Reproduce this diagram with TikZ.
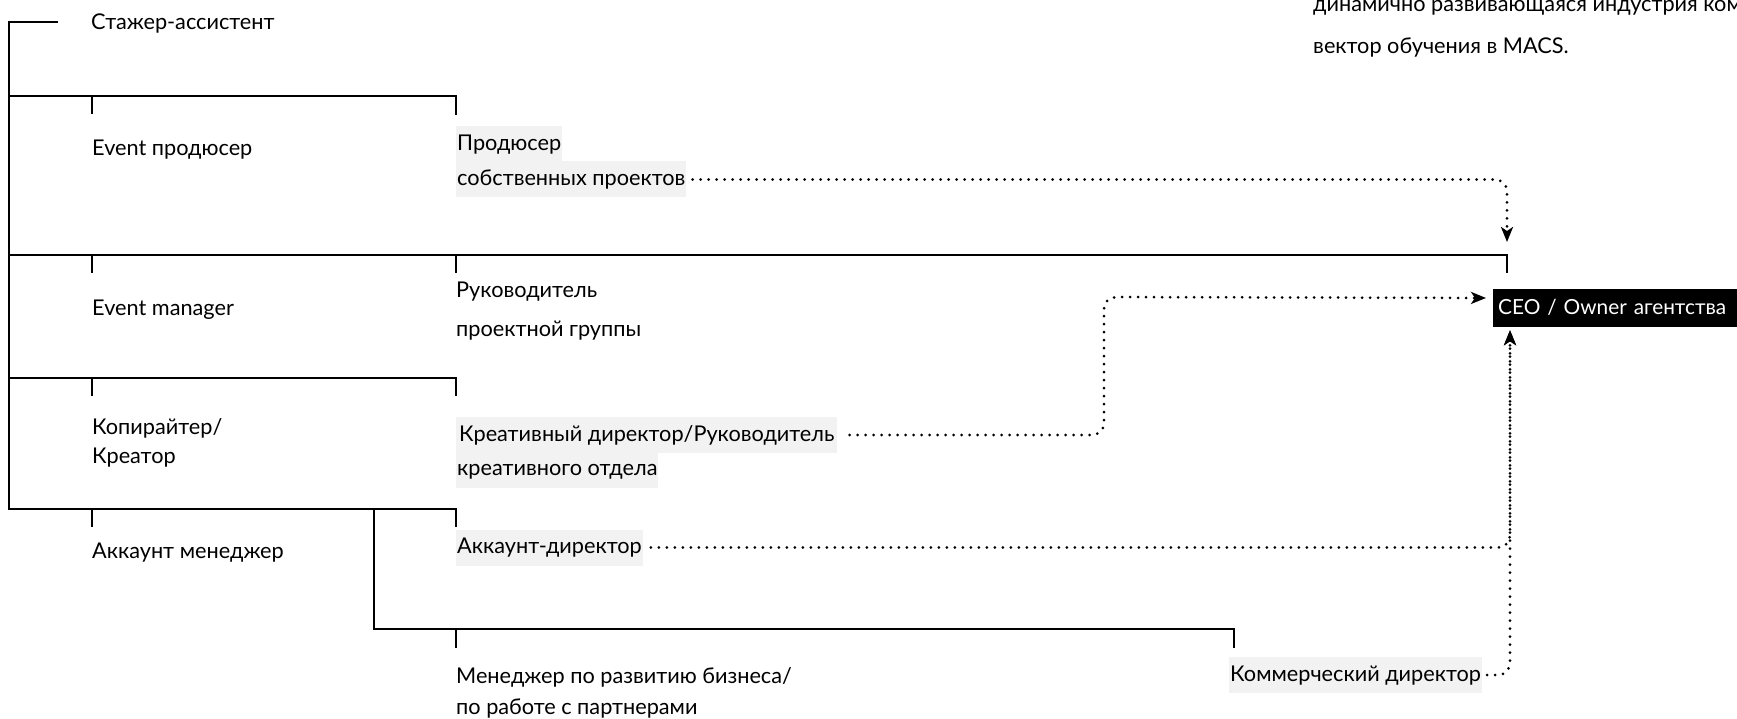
\documentclass[tikz,border=0pt]{standalone}
\usepackage{fontspec}
\setmainfont{Lato}
\usetikzlibrary{arrows.meta}
\definecolor{hlgray}{RGB}{242,242,242}
\tikzset{
  role/.style={anchor=west, inner xsep=0pt, inner ysep=0pt, text height=16pt, text depth=4pt, font=\fontsize{21.7}{22}\selectfont},
  hirole/.style={role, fill=hlgray, inner xsep=1pt, inner ysep=8pt},
  branch/.style={line width=2.6pt},
  dotline/.style={line width=3pt, line cap=round, dash pattern=on 0pt off 8pt, rounded corners=12pt, -{Stealth[length=15pt,width=12pt,inset=4pt]}}
}

\begin{document}
\begin{tikzpicture}[x=1pt,y=-1pt]
    \useasboundingbox (0,0) rectangle (1737,719);
    \draw[branch] (58,22) -- (9,22) -- (9,509) -- (456,509) -- (456,527);
    \draw[branch] (9,96) -- (456,96) -- (456,115);
    \draw[branch] (9,255) -- (1507,255) -- (1507,273);
    \draw[branch] (9,378) -- (456,378) -- (456,396);
    \draw[branch] (374,509) -- (374,629) -- (1234,629) -- (1234,648);
    \draw[branch] (92,96) -- (92,114);
    \draw[branch] (92,255) -- (92,273);
    \draw[branch] (456,255) -- (456,273);
    \draw[branch] (92,378) -- (92,396);
    \draw[branch] (92,509) -- (92,527);
    \draw[branch] (456,629) -- (456,648);
    \node[role] (intern) at (91,24) {Стажер-ассистент};
    \node[role] (dyn) at (1313,6) {динамично развивающаяся индустрия ком};
    \node[role] (vec) at (1313,48) {вектор обучения в MACS.};
    \node[role] (evprod) at (92,150) {Event продюсер};
    \node[hirole] (prodA) at (456,144.5) {Продюсер};
    \node[hirole] (prodB) at (456,179.5) {собственных проектов};
    \node[role] (evman) at (92,310) {Event manager};
    \node[role] (rukA) at (456,292) {Руководитель};
    \node[role] (rukB) at (456,330) {проектной группы};
    \node[role] (copyA) at (92,428) {Копирайтер/};
    \node[role] (copyB) at (92,457) {Креатор};
    \node[hirole, inner xsep=3pt] (kreaA) at (456,435) {Креативный директор/Руководитель};
    \node[hirole] (kreaB) at (456,469.5) {креативного отдела};
    \node[role] (accM) at (92,552) {Аккаунт менеджер};
    \node[hirole] (accD) at (456,547.5) {Аккаунт-директор};
    \node[role] (bizA) at (456,677) {Менеджер по развитию бизнеса/};
    \node[role] (bizB) at (456,708) {по работе с партнерами};
    \node[hirole] (comD) at (1229,675) {Коммерческий директор};
    \node[role, fill=black, text=white, inner xsep=5pt, inner ysep=9pt, text width=250pt, align=left, font=\fontsize{20.8}{22}\selectfont] (ceo) at (1493,308) {CEO / Owner агентства};
    \coordinate (ceoTop) at (1507,242);
    \draw[dotline, shorten <=6pt] (prodB.east) -| (ceoTop);
    \draw[dotline, shorten <=12pt, shorten >=7pt] (kreaA.east) -| (1104,297) -- ([yshift=10pt]ceo.west);
    \draw[dotline, shorten <=8pt, shorten >=3pt] (accD.east) -| ([xshift=17pt]ceo.south west);
    \draw[dotline, shorten <=5pt, shorten >=3pt] (comD.east) -| ([xshift=17pt]ceo.south west);
  \end{tikzpicture}
\end{document}
